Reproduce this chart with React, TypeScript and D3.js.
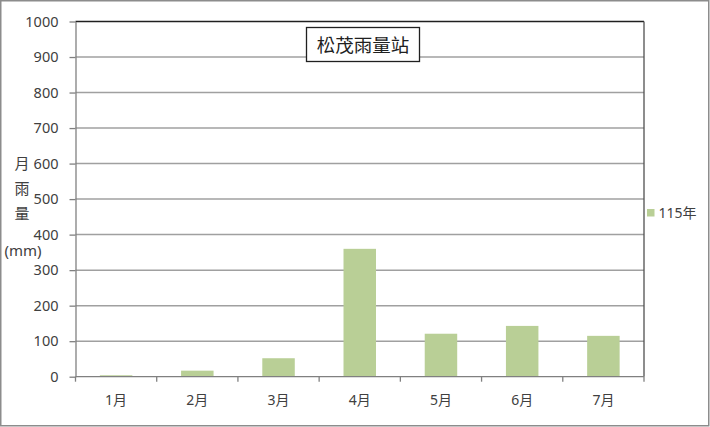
import React, { useEffect, useRef } from 'react';
import * as d3 from 'd3';

const months = ['1月', '2月', '3月', '4月', '5月', '6月', '7月'];
const rain115 = [4, 17, 52, 360, 121, 143, 115];
const yTicks = [0, 100, 200, 300, 400, 500, 600, 700, 800, 900, 1000];
const seriesName = '115年';
const chartTitle = '松茂雨量站';
const yTitle = ['月', '雨', '量'];

const FONT = '"Noto Sans", "Noto Sans CJK TC", sans-serif';
const CJK = '"Noto Sans CJK TC", "Noto Sans", sans-serif';

export default function App() {
  const svgRef = useRef<SVGSVGElement>(null);

  useEffect(() => {
    if (!svgRef.current) return;
    const width = 710;
    const height = 427;
    const margin = { top: 21.5, right: 66, bottom: 50, left: 75.5 };
    const innerW = width - margin.left - margin.right;
    const innerH = 376.7 - margin.top;

    const root = d3.select(svgRef.current);
    root.selectAll('*').remove();
    root.attr('width', width).attr('height', height);

    root.append('rect')
      .attr('x', 0.75).attr('y', 0.75)
      .attr('width', width - 2).attr('height', height - 2)
      .attr('fill', '#fff')
      .attr('stroke', '#8c8c8c')
      .attr('stroke-width', 1.5);

    const svg = root.append('g')
      .attr('transform', `translate(${margin.left},${margin.top})`);

    const x = d3.scaleBand()
      .domain(months)
      .range([0, innerW])
      .paddingInner(0.6)
      .paddingOuter(0.3);

    const y = d3.scaleLinear().domain([0, 1000]).range([innerH, 0]);

    // grid lines
    svg.append('g')
      .selectAll('line')
      .data(yTicks.filter(t => t > 0 && t < 1000))
      .join('line')
      .attr('x1', 0).attr('x2', innerW)
      .attr('y1', d => y(d)).attr('y2', d => y(d))
      .attr('stroke', '#a0a0a0')
      .attr('stroke-width', 1.5);

    // plot frame top/right
    svg.append('line')
      .attr('x1', 0).attr('x2', innerW)
      .attr('y1', y(1000)).attr('y2', y(1000))
      .attr('stroke', '#202020').attr('stroke-width', 1.3);
    svg.append('line')
      .attr('x1', innerW).attr('x2', innerW)
      .attr('y1', 0).attr('y2', innerH)
      .attr('stroke', '#505050').attr('stroke-width', 1.3);

    // bars
    svg.append('g')
      .selectAll('rect')
      .data(rain115)
      .join('rect')
      .attr('x', (_, i) => x(months[i]) || 0)
      .attr('y', d => y(d))
      .attr('width', x.bandwidth())
      .attr('height', d => innerH - y(d))
      .attr('fill', '#b9cf96');

    // y axis
    const yAxis = svg.append('g')
      .call(d3.axisLeft(y).tickValues(yTicks).tickSize(6).tickSizeOuter(0).tickFormat(d3.format('d')));
    yAxis.select('.domain').attr('stroke', '#808080').attr('stroke-width', 1.3);
    yAxis.selectAll('.tick line').attr('stroke', '#808080').attr('stroke-width', 1.3);
    yAxis.selectAll('.tick text')
      .attr('x', -17)
      .style('font-family', FONT)
      .style('font-size', '14.5px')
      .style('fill', '#404040');

    // x axis
    const step = innerW / months.length;
    const xg = svg.append('g').attr('transform', `translate(0,${innerH})`);
    xg.append('line')
      .attr('x1', 0).attr('x2', innerW)
      .attr('y1', 0).attr('y2', 0)
      .attr('stroke', '#808080').attr('stroke-width', 1.3);
    xg.selectAll('line.tk')
      .data(d3.range(months.length + 1))
      .join('line')
      .attr('class', 'tk')
      .attr('x1', d => d * step).attr('x2', d => d * step)
      .attr('y1', 0).attr('y2', 5)
      .attr('stroke', '#808080').attr('stroke-width', 1.3);
    xg.selectAll('text')
      .data(months)
      .join('text')
      .attr('x', d => (x(d) || 0) + x.bandwidth() / 2)
      .attr('y', 28)
      .attr('text-anchor', 'middle')
      .style('font-family', FONT)
      .style('font-size', '14px')
      .style('fill', '#404040')
      .text(d => d);

    // y title
    yTitle.forEach((ch, i) => {
      root.append('text')
        .attr('x', 22)
        .attr('y', 169 + i * 25)
        .attr('text-anchor', 'middle')
        .style('font-family', CJK)
        .style('font-size', '15px')
        .style('fill', '#404040')
        .text(ch);
    });
    root.append('text')
      .attr('x', 23)
      .attr('y', 256)
      .attr('text-anchor', 'middle')
      .style('font-family', FONT)
      .style('font-size', '15px')
      .style('fill', '#404040')
      .text('(mm)');

    // title box
    root.append('rect')
      .attr('x', 306.5).attr('y', 27.5)
      .attr('width', 113).attr('height', 34)
      .attr('fill', '#fff')
      .attr('stroke', '#202020')
      .attr('stroke-width', 1.3);
    root.append('text')
      .attr('x', 363)
      .attr('y', 51.5)
      .attr('text-anchor', 'middle')
      .style('font-family', CJK)
      .style('font-size', '18.5px')
      .style('fill', '#202020')
      .text(chartTitle);

    // legend
    root.append('rect')
      .attr('x', 647).attr('y', 209)
      .attr('width', 7.5).attr('height', 7.5)
      .attr('fill', '#b9cf96');
    root.append('text')
      .attr('x', 658.5)
      .attr('y', 218)
      .style('font-family', FONT)
      .style('font-size', '14px')
      .style('fill', '#404040')
      .text(seriesName);
  }, []);

  return (
    <div style={{ position: 'absolute', left: 0, top: 0 }}>
      <svg ref={svgRef} width={710} height={427} style={{ display: 'block' }} />
    </div>
  );
}
